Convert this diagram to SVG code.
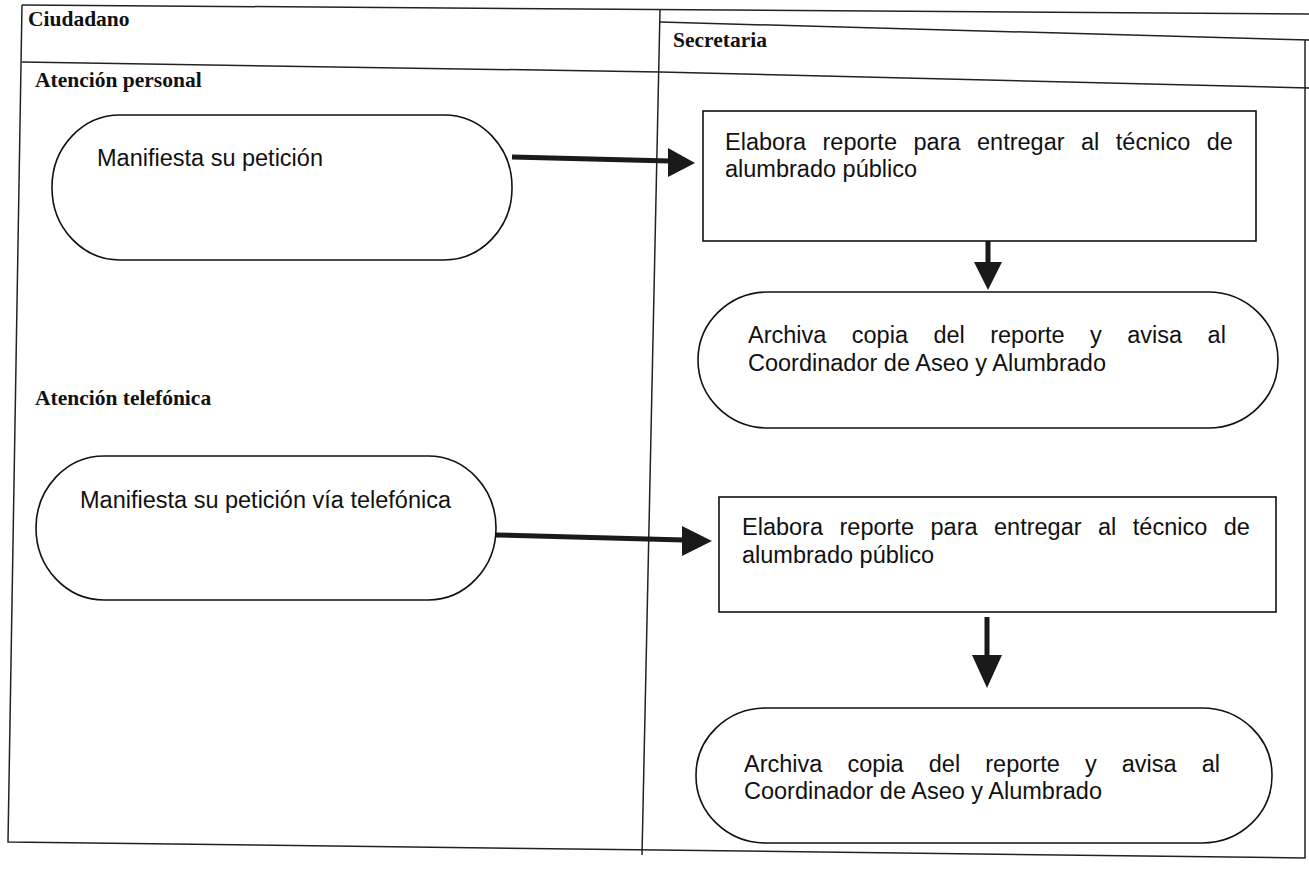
<svg xmlns="http://www.w3.org/2000/svg" width="1309" height="873" viewBox="0 0 1309 873">
<style>
.tbl{fill:none;stroke:#222;stroke-width:1.5}
.hdr{font-family:"Liberation Serif",serif;font-weight:bold;font-size:21.5px;fill:#111}
.node{fill:#fff;stroke:#111;stroke-width:1.6}
.t{font-family:"Liberation Sans",Arial,sans-serif;font-size:23.5px;fill:#111}
.conn{stroke:#1a1a1a;stroke-width:5;fill:none}
.head{fill:#1a1a1a}
</style>
<rect width="1309" height="873" fill="#fff"/>
<g id="table">
<path class="tbl" d="M22,5 L1309,14"/>
<path class="tbl" d="M660,22 L1309,40"/>
<path class="tbl" d="M22,62 L660,72 L1309,88"/>
<path class="tbl" d="M22,5 L8,842 L1305,858 L1305,40"/>
<path class="tbl" d="M660,10 L642,855"/>
<text class="hdr" x="28" y="26">Ciudadano</text>
<text class="hdr" x="673" y="47">Secretaria</text>
<text class="hdr" x="35" y="87">Atención personal</text>
<text class="hdr" x="35" y="405">Atención telefónica</text>
</g>
<g id="connectors">
<path class="conn" d="M512,157 L670,161"/>
<polygon class="head" points="668,148 695,163 668,177"/>
<path class="conn" d="M988,240 L988,264"/>
<polygon class="head" points="974,262 1002,262 988,290"/>
<path class="conn" d="M496,535 L684,540"/>
<polygon class="head" points="682,526 712,541 682,556"/>
<path class="conn" d="M987,617 L987,658"/>
<polygon class="head" points="972,655 1002,655 987,688"/>
</g>
<g id="n1">
<rect class="node" x="52" y="115" width="460" height="145" rx="68" ry="72"/>
<text class="t" x="97" y="166">Manifiesta su petición</text>
</g>
<g id="n2">
<rect class="node" x="703" y="111" width="553" height="130"/>
<text class="t" y="150"><tspan x="725">Elabora</tspan><tspan x="822.5">reporte</tspan><tspan x="913.5">para</tspan><tspan x="977">entregar</tspan><tspan x="1081">al</tspan><tspan x="1115.8">técnico</tspan><tspan x="1206.8">de</tspan></text>
<text class="t" x="725" y="177">alumbrado público</text>
</g>
<g id="n3">
<rect class="node" x="698" y="292" width="580" height="136" rx="70" ry="68"/>
<text class="t" y="343"><tspan x="748">Archiva</tspan><tspan x="851.8">copia</tspan><tspan x="933.4">del</tspan><tspan x="990.2">reporte</tspan><tspan x="1090.1">y</tspan><tspan x="1127.3">avisa</tspan><tspan x="1207.6">al</tspan></text>
<text class="t" x="748" y="371">Coordinador de Aseo y Alumbrado</text>
</g>
<g id="n4">
<rect class="node" x="36" y="456" width="460" height="144" rx="68" ry="72"/>
<text class="t" x="80" y="508">Manifiesta su petición vía telefónica</text>
</g>
<g id="n5">
<rect class="node" x="719" y="497" width="557" height="115"/>
<text class="t" y="535"><tspan x="742">Elabora</tspan><tspan x="839.5">reporte</tspan><tspan x="930.5">para</tspan><tspan x="994">entregar</tspan><tspan x="1098">al</tspan><tspan x="1132.8">técnico</tspan><tspan x="1223.8">de</tspan></text>
<text class="t" x="742" y="563">alumbrado público</text>
</g>
<g id="n6">
<rect class="node" x="696" y="708" width="576" height="135" rx="70" ry="67"/>
<text class="t" y="772"><tspan x="744">Archiva</tspan><tspan x="847.5">copia</tspan><tspan x="928.8">del</tspan><tspan x="985.3">reporte</tspan><tspan x="1084.9">y</tspan><tspan x="1121.8">avisa</tspan><tspan x="1201.8">al</tspan></text>
<text class="t" x="744" y="799">Coordinador de Aseo y Alumbrado</text>
</g>
</svg>
